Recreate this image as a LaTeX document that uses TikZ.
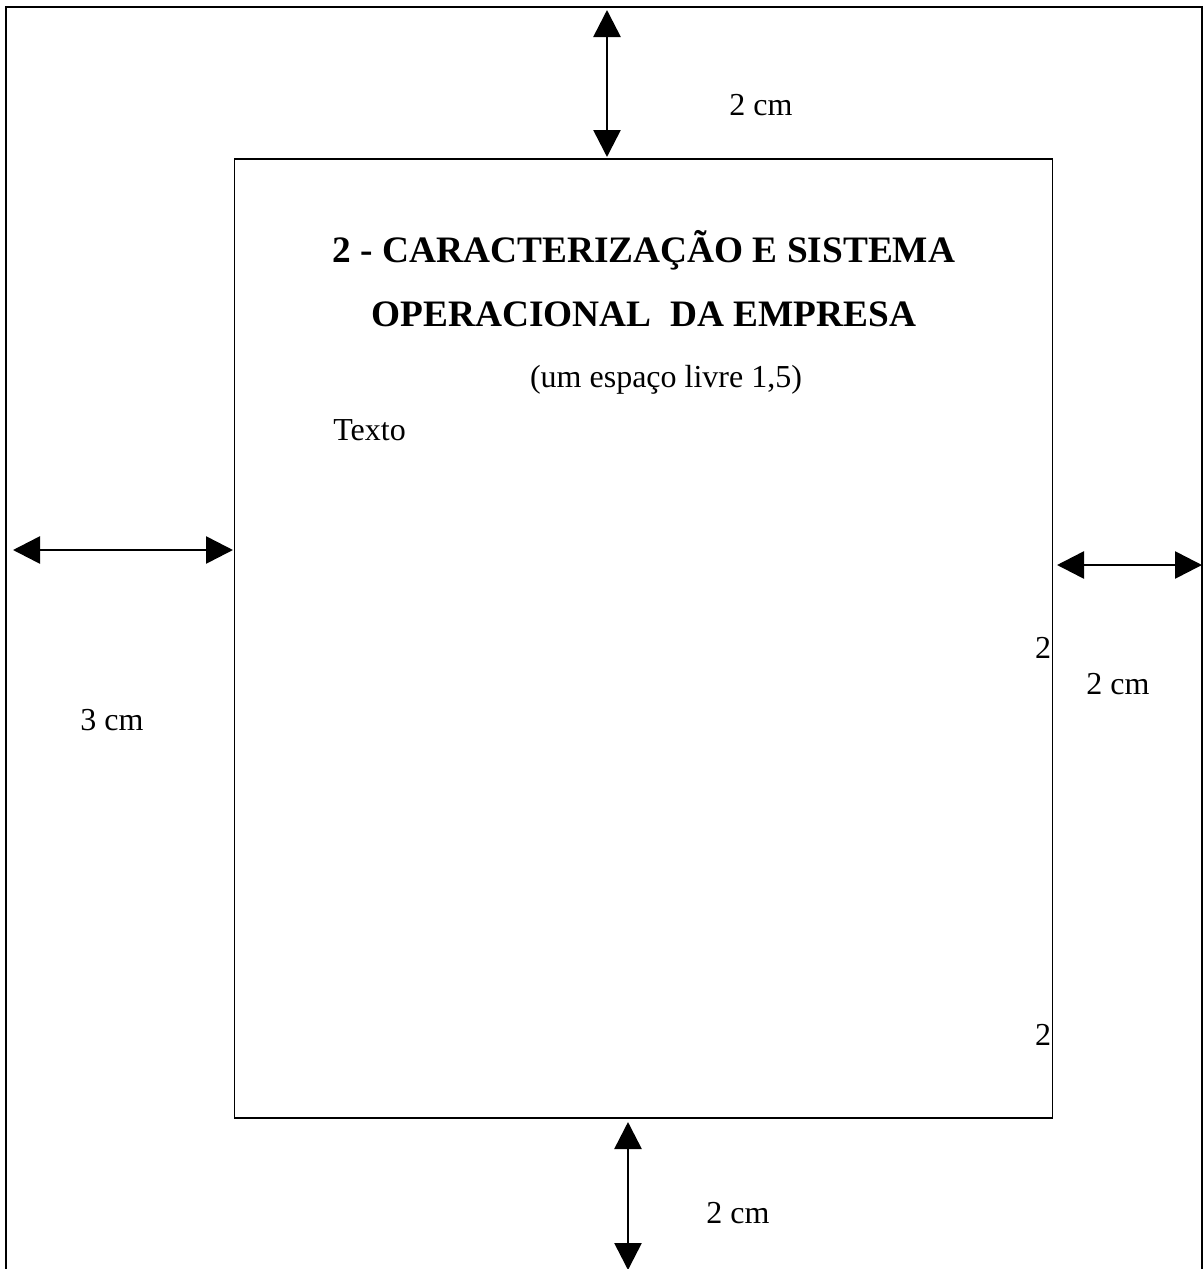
\documentclass[tikz,border=0pt]{standalone}
\usepackage{fontspec}
\setmainfont{Liberation Serif}
\usetikzlibrary{arrows.meta}
\definecolor{ink}{HTML}{000000}

\tikzset{
  margem/.style={line width=1.3pt, color=ink,
    {Triangle[length=13.5pt,width=13.5pt]}-{Triangle[length=13.5pt,width=13.5pt]}},
  titulo/.style={font=\fontsize{18.67}{22}\selectfont\bfseries},
}

\begin{document}
\begin{tikzpicture}[x=0.5pt, y=-0.5pt, every node/.style={font=\fontsize{16}{19}\selectfont, inner sep=0pt, color=ink}]
  \useasboundingbox (0,0) rectangle (1204,1269);
  % folha e mancha
  \draw[line width=1.1pt, color=ink] (6,1290) -- (6,7) -- (1202,7) -- (1202,1290);
  \draw[line width=0.65pt, color=ink] (234.5,159) rectangle (1052.3,1118);
  % margens
  \coordinate (supA) at (607,10);
  \coordinate (supB) at (607,157);
  \coordinate (infA) at (628,1122);
  \coordinate (infB) at (628,1270);
  \coordinate (esqA) at (13,550);
  \coordinate (esqB) at (233,550);
  \coordinate (dirA) at (1057,565);
  \coordinate (dirB) at (1202,565);
  \draw[margem] (supA) -- (supB);
  \draw[margem] (infA) -- (infB);
  \draw[margem] (esqA) -- (esqB);
  \draw[margem] (dirA) -- (dirB);
  \node (supL) at (761,105) {2 cm};
  \node (infL) at (738,1213) {2 cm};
  \node (esqL) at (112,720) {3 cm};
  \node (dirL) at (1118,684) {2 cm};
  \node[anchor=east] (num1) at (1051.5,648) {2};
  \node[anchor=east] (num2) at (1051.5,1035) {2};
  % texto da pagina
  \node[titulo] (tit1) at (644,250) {2 - CARACTERIZAÇÃO E SISTEMA};
  \node[titulo] (tit2) at (644,314) {OPERACIONAL\ \ DA EMPRESA};
  \node (esp) at (666,380) {(um espaço livre 1,5)};
  \node[anchor=west] (txt) at (333,430) {Texto};
\end{tikzpicture}
\end{document}
